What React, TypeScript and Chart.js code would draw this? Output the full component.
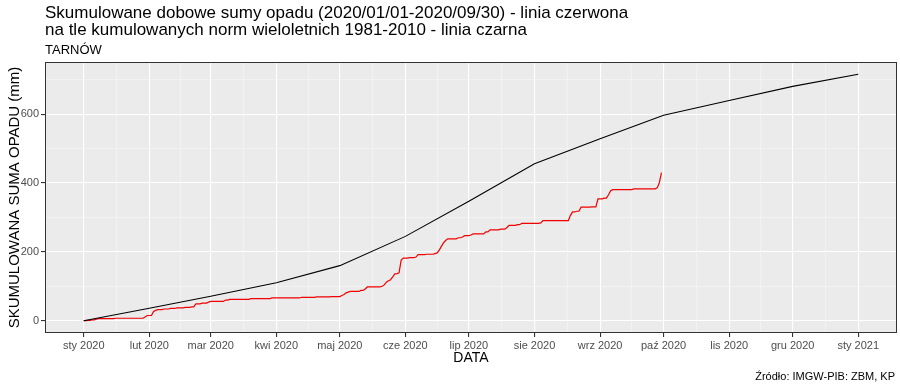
import React, { useEffect, useRef } from "react";
import { Chart, registerables } from "chart.js";
Chart.register(...registerables);

// Day offsets (from 2020-01-01) of month starts and their labels
const monthStartDays = [0, 31, 60, 91, 121, 152, 182, 213, 244, 274, 305, 335, 366];
const monthLabels = ["sty 2020", "lut 2020", "mar 2020", "kwi 2020", "maj 2020", "cze 2020", "lip 2020", "sie 2020", "wrz 2020", "paź 2020", "lis 2020", "gru 2020", "sty 2021"];

// Multi-year (1981-2010) monthly precipitation norms, mm
const normMonthly = [36, 35, 39, 50, 85, 102, 109, 73, 68, 43, 41, 35];

// Daily precipitation 2020, mm
const rainJan = [0, 0, 1, 0, 1.5, 0, 2, 1.5, 0, 0, 0, 0, 0, 0, 0, 1, 0, 0, 0, 0, 0, 0, 0, 0, 0, 0, 0, 0, 0, 4, 4];
const rainFeb = [0, 0, 12, 3, 2, 0, 0, 2, 0, 0, 1.5, 0, 0, 1.5, 0, 0, 0, 1.5, 0, 0, 1.5, 0, 9, 0, 0, 2, 0, 0, 3];
const rainMar = [2, 0, 0, 0, 0, 0, 0, 4, 0, 2, 0, 0, 0, 0, 0, 0, 0, 0, 0, 2, 0, 0, 0, 0, 0, 0, 0, 0, 0, 2, 0];
const rainApr = [0, 0, 0, 0, 0, 0, 0, 0, 0, 0, 0, 0, 2, 0, 0, 0, 0, 0, 0, 1, 0, 0, 0, 0, 0, 0, 1, 0, 0, 0];
const rainMay = [0, 3, 3, 5, 2, 2, 0, 0, 0, 0, 3, 0, 4, 6, 0, 0, 0, 0, 0, 0, 2, 4, 8, 4, 3, 8, 9, 1, 2, 37, 6];
const rainJun = [0, 0, 1, 0, 0, 2, 7, 0, 0, 0, 1, 0, 0, 0, 2, 2, 8, 11, 10, 7, 5, 0, 0, 0, 0, 3, 0, 2, 4, 0];
const rainJul = [0, 2, 3, 0, 0, 0, 0, 0, 6, 0, 6, 0, 0, 0, 0, 2, 0, 0, 5, 6, 0, 0, 0, 2, 0, 4, 0, 0, 0, 0, 0];
const rainAug = [0, 0, 0, 1, 7, 0, 0, 0, 0, 0, 0, 0, 0, 0, 0, 0, 0, 15, 10, 0, 2, 0, 12, 0, 0, 0, 0, 1, 0, 0, 23];
const rainSep = [0, 0, 2, 0, 10, 12, 3, 0, 0, 0, 0, 0, 0, 0, 0, 0, 2, 0, 0, 0, 0, 0, 0, 0, 0, 0, 0, 3, 15, 29];

const yMajorTicks = [0, 200, 400, 600];
const yMinorTicks = [100, 300, 500, 700];

const TITLE_LINES = [
  "Skumulowane dobowe sumy opadu (2020/01/01-2020/09/30) - linia czerwona",
  "na tle kumulowanych norm wieloletnich 1981-2010 - linia czarna",
];
const SUBTITLE = "TARNÓW";
const CAPTION = "Źródło: IMGW-PIB: ZBM, KP";
const X_TITLE = "DATA";
const Y_TITLE = "SKUMULOWANA SUMA OPADU (mm)";

const FONT = "'Liberation Sans', Arial, sans-serif";

export default function App() {
  const ref = useRef<HTMLCanvasElement | null>(null);

  useEffect(() => {
    const canvas = ref.current;
    if (!canvas) return;

    const normData: { x: number; y: number }[] = [{ x: monthStartDays[0], y: 0 }];
    let acc = 0;
    normMonthly.forEach((v, i) => {
      acc += v;
      normData.push({ x: monthStartDays[i + 1], y: acc });
    });

    const daily = [...rainJan, ...rainFeb, ...rainMar, ...rainApr, ...rainMay, ...rainJun, ...rainJul, ...rainAug, ...rainSep];
    const obsData: { x: number; y: number }[] = [];
    let c = 0;
    daily.forEach((v, d) => {
      c += v;
      obsData.push({ x: d, y: c });
    });

    const xMinor: number[] = [];
    for (let i = 0; i < monthStartDays.length - 1; i++) xMinor.push((monthStartDays[i] + monthStartDays[i + 1]) / 2);
    const xAll = [...monthStartDays, ...xMinor].sort((a, b) => a - b);
    const yAll = [...yMajorTicks, ...yMinorTicks].sort((a, b) => a - b);
    const isXMajor = (v: number) => monthStartDays.includes(v);
    const isYMajor = (v: number) => yMajorTicks.includes(v);

    const xSpan = monthStartDays[monthStartDays.length - 1] - monthStartDays[0];
    const yMaxData = normData[normData.length - 1].y;

    const decor = {
      id: "decor",
      beforeDraw(chart: any) {
        const { ctx, chartArea: a } = chart;
        ctx.save();
        ctx.fillStyle = "#EBEBEB";
        ctx.fillRect(a.left, a.top, a.right - a.left, a.bottom - a.top);
        ctx.restore();
      },
      afterDraw(chart: any) {
        const { ctx, chartArea: a } = chart;
        ctx.save();
        ctx.strokeStyle = "#333333";
        ctx.lineWidth = 1;
        ctx.strokeRect(a.left + 0.5, a.top + 0.5, a.right - a.left - 1, a.bottom - a.top - 1);

        ctx.fillStyle = "#000";
        ctx.textAlign = "left";
        ctx.textBaseline = "alphabetic";
        ctx.font = `17px ${FONT}`;
        ctx.fillText(TITLE_LINES[0], a.left, 17.5);
        ctx.fillText(TITLE_LINES[1], a.left, 35);
        ctx.font = `13px ${FONT}`;
        ctx.fillText(SUBTITLE, a.left, 54);

        ctx.font = `14px ${FONT}`;
        ctx.textAlign = "center";
        ctx.fillText(X_TITLE, (a.left + a.right) / 2, 362);

        ctx.save();
        ctx.font = `15px ${FONT}`;
        ctx.translate(19, (a.top + a.bottom) / 2);
        ctx.rotate(-Math.PI / 2);
        ctx.textAlign = "center";
        ctx.fillText(Y_TITLE, 0, 0);
        ctx.restore();

        ctx.font = `11px ${FONT}`;
        ctx.textAlign = "right";
        ctx.fillText(CAPTION, 895, 380);
        ctx.restore();
      },
    };

    const chart = new Chart(canvas, {
      type: "line",
      data: {
        datasets: [
          {
            label: "norma",
            data: normData,
            borderColor: "#000000",
            borderWidth: 1.1,
            pointRadius: 0,
            tension: 0,
          },
          {
            label: "2020",
            data: obsData,
            borderColor: "#F00000",
            borderWidth: 1.2,
            pointRadius: 0,
            tension: 0,
          },
        ],
      },
      options: {
        responsive: false,
        animation: false,
        parsing: false as any,
        layout: { padding: { top: 62, right: 3, left: 0, bottom: 0 } },
        plugins: {
          legend: { display: false },
          tooltip: { enabled: false },
          title: { display: false },
        },
        scales: {
          x: {
            type: "linear",
            min: -0.05 * xSpan,
            max: monthStartDays[monthStartDays.length - 1] + 0.05 * xSpan,
            afterBuildTicks: (s: any) => {
              s.ticks = xAll.map((v) => ({ value: v }));
            },
            afterFit: (s: any) => {
              s.height = 53;
            },
            ticks: {
              autoSkip: false,
              maxRotation: 0,
              minRotation: 0,
              padding: 2,
              color: "#4D4D4D",
              font: { family: FONT, size: 11 },
              callback: (v: any) => {
                const i = monthStartDays.indexOf(Number(v));
                return i >= 0 ? monthLabels[i] : "";
              },
            },
            grid: {
              color: (ctx: any) => (ctx.tick && isXMajor(ctx.tick.value) ? "#FFFFFF" : "rgba(255,255,255,0.7)"),
              lineWidth: (ctx: any) => (ctx.tick && isXMajor(ctx.tick.value) ? 1.1 : 0.5),
              tickColor: (ctx: any) => (ctx.tick && isXMajor(ctx.tick.value) ? "#333333" : "rgba(0,0,0,0)"),
              tickLength: 4,
            },
            border: { display: false },
          },
          y: {
            type: "linear",
            min: -0.05 * yMaxData,
            max: yMaxData * 1.05,
            afterBuildTicks: (s: any) => {
              s.ticks = yAll.map((v) => ({ value: v }));
            },
            afterFit: (s: any) => {
              s.width = 45;
            },
            ticks: {
              autoSkip: false,
              padding: 2,
              color: "#4D4D4D",
              font: { family: FONT, size: 11 },
              callback: (v: any) => (isYMajor(Number(v)) ? String(v) : ""),
            },
            grid: {
              color: (ctx: any) => (ctx.tick && isYMajor(ctx.tick.value) ? "#FFFFFF" : "rgba(255,255,255,0.7)"),
              lineWidth: (ctx: any) => (ctx.tick && isYMajor(ctx.tick.value) ? 1.1 : 0.5),
              tickColor: (ctx: any) => (ctx.tick && isYMajor(ctx.tick.value) ? "#333333" : "rgba(0,0,0,0)"),
              tickLength: 4,
            },
            border: { display: false },
          },
        },
      },
      plugins: [decor],
    });

    return () => chart.destroy();
  }, []);

  return (
    <div style={{ position: "absolute", left: 0, top: 0, width: 900, height: 386, background: "#fff" }}>
      <canvas ref={ref} width={900} height={386} style={{ width: 900, height: 386, display: "block" }} />
    </div>
  );
}
